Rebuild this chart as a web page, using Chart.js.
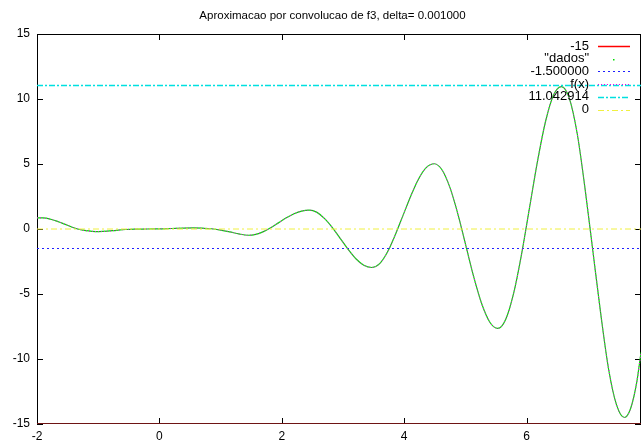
<!DOCTYPE html>
<html>
<head>
<meta charset="utf-8">
<script src="https://cdn.jsdelivr.net/npm/chart.js@4.4.1/dist/chart.umd.min.js"></script>
<style>
body{margin:0;background:#fff;}
canvas{display:block;}
</style>
</head>
<body>
<canvas id="canvas" width="642" height="444"></canvas>
<script>
const titleText="Aproximacao por convolucao de f3, delta= 0.001000";
const xs=[-2,-1.9,-1.8,-1.7,-1.6,-1.5,-1.4,-1.3,-1.2,-1.1,-0.99,-0.85,-0.7,-0.55,-0.4,-0.2,0,0.2,0.4,0.55,0.7,0.85,1.0,1.15,1.3,1.45,
    1.575,1.7,1.825,1.95,2.075,2.2,2.325,2.45,2.575,2.7,2.83,2.96,3.09,3.215,3.34,3.47,3.6,3.725,3.85,3.98,4.11,4.235,4.36,4.49,
    4.62,4.75,4.88,5.01,5.14,5.27,5.4,5.53,5.66,5.79,5.92,6.05,6.18,6.31,6.44,6.57,6.7,6.83,6.955,7.085,7.215,7.34,7.47,7.6,7.7,7.8,7.87];
const ys=[0.86,0.85,0.78,0.64,0.47,0.29,0.10,-0.04,-0.13,-0.18,-0.20,-0.17,-0.10,-0.04,-0.01,0.00,0.01,0.04,0.07,0.08,0.06,0.02,-0.08,-0.22,-0.38,-0.48,
    -0.41,-0.20,0.12,0.49,0.86,1.17,1.38,1.45,1.28,0.80,0.09,-0.76,-1.60,-2.31,-2.79,-2.96,-2.66,-1.79,-0.50,1.03,2.56,3.85,4.72,5.02,
    4.54,3.16,1.11,-1.32,-3.74,-5.79,-7.17,-7.65,-6.94,-4.92,-1.89,1.68,5.24,8.27,10.29,10.95,10.03,7.27,3.13,-1.75,-6.63,-10.77,-13.53,-14.5,-13.81,-11.8,-9.5];
const levelValues=[-15,-1.5,11.042914,0];
const levelLabels=["-15","-1.500000","11.042914","0"];
const xTicks=[-2,0,2,4,6];
const yTicks=[-15,-10,-5,0,5,10,15];
const xMin=-2;
const xMax=7.87;
const fontFamily="'Liberation Sans', Arial, sans-serif";

function curvePoints(){
    return xs.map((x,i)=>({x:x,y:ys[i]}));
}
function levelLine(v){
    return [{x:xMin,y:v},{x:xMax,y:v}];
}

const gnuFrame={
    id:"gnuFrame",
    beforeDatasetsDraw(chart){
        const {ctx,chartArea:a,scales}=chart;
        ctx.save();
        ctx.strokeStyle="#000";
        ctx.lineWidth=1;
        ctx.strokeRect(a.left+0.5,a.top+0.5,a.right-a.left-1,a.bottom-a.top-1);
        ctx.beginPath();
        xTicks.forEach(v=>{
            const px=Math.round(scales.x.getPixelForValue(v))+0.5;
            ctx.moveTo(px,a.bottom);
            ctx.lineTo(px,a.bottom-6);
            ctx.moveTo(px,a.top);
            ctx.lineTo(px,a.top+6);
        });
        yTicks.forEach(v=>{
            const py=Math.round(scales.y.getPixelForValue(v))+0.5;
            ctx.moveTo(a.left,py);
            ctx.lineTo(a.left+6,py);
            ctx.moveTo(a.right,py);
            ctx.lineTo(a.right-6,py);
        });
        ctx.stroke();
        ctx.restore();
    },
    afterDraw(chart){
        const ctx=chart.ctx;
        ctx.save();
        ctx.fillStyle="#000";
        ctx.font="11.5px "+fontFamily;
        ctx.textAlign="center";
        ctx.textBaseline="middle";
        ctx.fillText(titleText,332.5,16);
        ctx.font="13px "+fontFamily;
        ctx.textAlign="right";
        chart.data.datasets.forEach((d,i)=>{
            const y=46+i*12.7;
            ctx.fillStyle="#000";
            ctx.fillText(d.label,589,y);
            const ly=Math.round(y)+0.5;
            if(d.keyDot){
                ctx.fillStyle=d.borderColor;
                ctx.fillRect(613,Math.round(y),1.5,1.5);
                return;
            }
            ctx.strokeStyle=d.keyColor||d.borderColor;
            ctx.lineWidth=d.borderWidth>1.2?1.5:1;
            ctx.setLineDash(d.borderDash||[]);
            ctx.beginPath();
            ctx.moveTo(598,ly);
            ctx.lineTo(630,ly);
            ctx.stroke();
            ctx.setLineDash([]);
        });
        ctx.restore();
    }
};

new Chart(document.getElementById("canvas"),{
    type:"line",
    data:{
        datasets:[
            {label:levelLabels[0],data:levelLine(levelValues[0]),borderColor:"#6e1414",keyColor:"#ff0000",borderWidth:2,order:6},
            {label:"\"dados\"",data:curvePoints(),borderColor:"#00dd00",borderWidth:1.2,keyDot:true,order:5},
            {label:levelLabels[1],data:levelLine(levelValues[1]),borderColor:"#2020ff",borderWidth:1,borderDash:[2,3],order:4},
            {label:"f(x)",data:curvePoints(),borderColor:"#ee00ee",borderWidth:1,borderDash:[1,2],order:3},
            {label:levelLabels[2],data:levelLine(levelValues[2]),borderColor:"#00e0e0",borderWidth:1.5,borderDash:[6,2,2,2],order:2},
            {label:levelLabels[3],data:levelLine(levelValues[3]),borderColor:"#f0f040",borderWidth:1,borderDash:[6,3,2,3],order:1}
        ]
    },
    options:{
        responsive:false,
        animation:false,
        layout:{padding:{top:34,right:1,left:0,bottom:0}},
        elements:{
            point:{radius:0},
            line:{cubicInterpolationMode:"monotone",fill:false}
        },
        plugins:{
            legend:{display:false},
            title:{display:false},
            tooltip:{enabled:false}
        },
        scales:{
            x:{
                type:"linear",
                min:xMin,
                max:xMax,
                grid:{display:false,drawTicks:false},
                border:{display:false},
                afterFit(s){s.height=20;},
                afterBuildTicks(s){s.ticks=xTicks.map(v=>({value:v}));},
                ticks:{color:"#000",padding:5,maxRotation:0,font:{family:fontFamily,size:12}}
            },
            y:{
                type:"linear",
                min:-15,
                max:15,
                grid:{display:false,drawTicks:false},
                border:{display:false},
                afterFit(s){s.width=37;},
                afterBuildTicks(s){s.ticks=yTicks.map(v=>({value:v}));},
                ticks:{color:"#000",padding:7,font:{family:fontFamily,size:12}}
            }
        }
    },
    plugins:[gnuFrame]
});
</script>
</body>
</html>
